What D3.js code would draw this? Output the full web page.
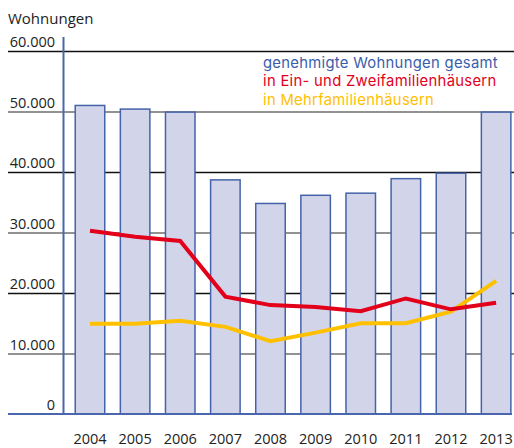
<!DOCTYPE html>
<html>
<head>
<meta charset="utf-8">
<script src="https://cdn.jsdelivr.net/npm/d3@7"></script>
<style>
  body { margin: 0; background: #fff; }
  text { font-family: "Open Sans", "Noto Sans", sans-serif; }
  .legend text { font-family: Inter, "Open Sans", sans-serif; letter-spacing: 0.3px; }
</style>
</head>
<body>
<svg id="drawing_region"></svg>
<script>
// data
const years = ["2004","2005","2006","2007","2008","2009","2010","2011","2012","2013"];
const gesamt = [51000, 50400, 49900, 38700, 34800, 36150, 36500, 38900, 39800, 49900];
const einZwei = [30300, 29300, 28600, 19400, 18000, 17700, 17000, 19100, 17300, 18400];
const mehr = [14900, 14900, 15400, 14400, 12050, 13450, 15000, 15000, 16900, 22000];
const yTicks = [0, 10000, 20000, 30000, 40000, 50000, 60000];
const legendLabels = ["genehmigte Wohnungen gesamt", "in Ein- und Zweifamilienhäusern", "in Mehrfamilienhäusern"];
const legendColors = ["#3a5dab", "#e2001a", "#ffc000"];

const W = 514, H = 448;
const svg = d3.select("#drawing_region").attr("width", W).attr("height", H);

const y = d3.scaleLinear().domain([0, 60000]).range([414, 51]);
const x = d3.scaleBand().domain(years).range([63.5, 522.6])
    .paddingInner(0.346).paddingOuter(0.26);

const fmt = d => d === 0 ? "0" : d3.format(",")(d).replace(/,/g, ".");

// grid lines (alternating black / gray)
svg.append("g").selectAll("line")
    .data(yTicks.filter(d => d > 0))
    .join("line")
    .attr("x1", 8).attr("x2", W)
    .attr("y1", d => y(d) + 0.5).attr("y2", d => y(d) + 0.5)
    .attr("stroke", d => (d / 10000) % 2 === 0 ? "#111" : "#6e6e6e")
    .attr("stroke-width", 1.5);

// tick labels
svg.append("g").selectAll("text")
    .data(yTicks)
    .join("text")
    .attr("x", 55).attr("y", d => y(d) - 4)
    .attr("text-anchor", "end")
    .attr("font-size", 14.5)
    .attr("fill", "#222")
    .text(fmt);

svg.append("text")
    .attr("x", 8).attr("y", 24)
    .attr("font-size", 15)
    .attr("fill", "#222")
    .text("Wohnungen");

// bars
svg.append("g").selectAll("rect")
    .data(gesamt)
    .join("rect")
    .attr("x", (d, i) => x(years[i]))
    .attr("y", d => y(d))
    .attr("width", x.bandwidth())
    .attr("height", d => y(0) - y(d))
    .attr("fill", "#d2d5ea")
    .attr("stroke", "#4563aa")
    .attr("stroke-width", 1.5);

// axes lines
svg.append("line")
    .attr("x1", 63.5).attr("x2", 63.5).attr("y1", 37).attr("y2", 414)
    .attr("stroke", "#4a66ad").attr("stroke-width", 2);
svg.append("line")
    .attr("x1", 8).attr("x2", 512).attr("y1", 414).attr("y2", 414)
    .attr("stroke", "#4a66ad").attr("stroke-width", 2);

// lines
const line = d3.line()
    .x((d, i) => x(years[i]) + x.bandwidth() / 2)
    .y(d => y(d));

svg.append("path")
    .datum(mehr)
    .attr("d", line)
    .attr("fill", "none")
    .attr("stroke", "#ffc000")
    .attr("stroke-width", 4);

svg.append("path")
    .datum(einZwei)
    .attr("d", line)
    .attr("fill", "none")
    .attr("stroke", "#e2001a")
    .attr("stroke-width", 4);

// x labels
svg.append("g").selectAll("text")
    .data(years)
    .join("text")
    .attr("x", d => x(d) + x.bandwidth() / 2)
    .attr("y", 444)
    .attr("text-anchor", "middle")
    .attr("font-size", 14.5)
    .attr("fill", "#222")
    .text(d => d);

// legend
svg.append("g").attr("class", "legend").selectAll("text")
    .data(legendLabels)
    .join("text")
    .attr("x", 263)
    .attr("y", (d, i) => 68 + i * 18.3)
    .attr("font-size", 14.8)
    .attr("fill", (d, i) => legendColors[i])
    .text(d => d);
</script>
</body>
</html>
